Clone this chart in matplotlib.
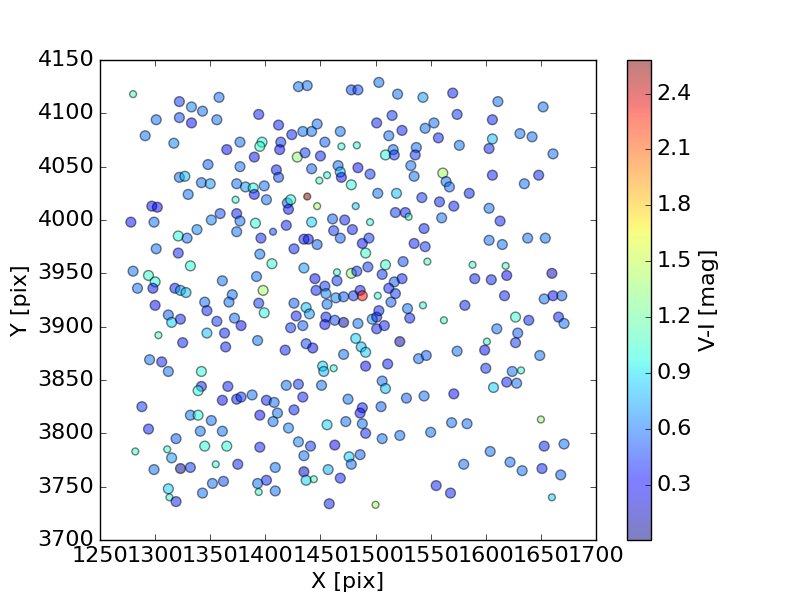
import matplotlib
matplotlib.use('Agg')
import matplotlib.pyplot as plt

# star positions [pix], colour V-I [mag] and rough magnitude (for marker size)
x_pix = [
    1280, 1322, 1333, 1343, 1358, 1301, 1322, 1333, 1356, 1394,
    1291, 1317, 1365, 1377, 1397, 1395, 1390, 1348, 1377, 1322,
    1327, 1342, 1350, 1374, 1382, 1389, 1390, 1399, 1401, 1330,
    1373, 1297, 1302, 1359, 1374, 1278, 1299, 1351, 1377, 1391,
    1321, 1329, 1338, 1374, 1396, 1301, 1321, 1395, 1332, 1280,
    1294, 1300, 1284, 1298, 1318, 1323, 1328, 1361, 1392, 1398,
    1370, 1367, 1345, 1300, 1347, 1394, 1399, 1312, 1315, 1323,
    1356, 1372, 1378, 1303, 1347, 1363, 1325, 1393, 1364, 1295,
    1306, 1312, 1342, 1342, 1339, 1366, 1288, 1361, 1374, 1378,
    1388, 1401, 1332, 1339, 1395, 1351, 1294, 1341, 1361, 1319,
    1282, 1311, 1315, 1345, 1365, 1395, 1299, 1323, 1332, 1355,
    1375, 1401, 1393, 1394, 1352, 1362, 1343, 1312, 1313, 1319,
    1430, 1438, 1478, 1484, 1503, 1520, 1543, 1412, 1424, 1434,
    1442, 1447, 1468, 1454, 1469, 1483, 1501, 1515, 1524, 1512,
    1545, 1553, 1414, 1413, 1429, 1436, 1450, 1516, 1509, 1517,
    1537, 1536, 1410, 1412, 1442, 1466, 1468, 1469, 1456, 1449,
    1478, 1484, 1495, 1532, 1535, 1420, 1423, 1421, 1438, 1447,
    1482, 1502, 1519, 1542, 1518, 1527, 1530, 1461, 1472, 1419,
    1407, 1442, 1495, 1544, 1435, 1439, 1447, 1462, 1468, 1479,
    1426, 1488, 1494, 1491, 1535, 1545, 1406, 1435, 1465, 1478,
    1483, 1493, 1509, 1525, 1547, 1506, 1445, 1465, 1517, 1524,
    1454, 1446, 1455, 1464, 1471, 1480, 1486, 1488, 1502, 1512,
    1518, 1514, 1456, 1426, 1437, 1440, 1428, 1423, 1434, 1455,
    1454, 1463, 1471, 1484, 1497, 1501, 1503, 1501, 1508, 1529,
    1531, 1543, 1482, 1487, 1491, 1522, 1437, 1443, 1418, 1471,
    1539, 1546, 1452, 1453, 1462, 1491, 1511, 1506, 1419, 1430,
    1451, 1509, 1408, 1434, 1411, 1426, 1407, 1421, 1456, 1475,
    1488, 1486, 1505, 1528, 1544, 1473, 1488, 1491, 1506, 1522,
    1550, 1430, 1441, 1463, 1435, 1476, 1478, 1486, 1409, 1435,
    1437, 1444, 1457, 1468, 1409, 1458, 1500, 1571, 1607, 1619,
    1628, 1569, 1583, 1650, 1653, 1671, 1604, 1622, 1633, 1651,
    1668, 1580, 1555, 1568, 1660, 1560, 1613, 1603, 1615, 1638,
    1654, 1588, 1618, 1590, 1605, 1619, 1660, 1617, 1653, 1661,
    1669, 1581, 1562, 1627, 1639, 1666, 1671, 1610, 1629, 1627,
    1601, 1599, 1574, 1649, 1600, 1624, 1632, 1570, 1611, 1652,
    1574, 1606, 1557, 1576, 1606, 1603, 1631, 1642, 1661, 1561,
    1564, 1567, 1585, 1606, 1635, 1648, 1558, 1571, 1603,
]

y_pix = [
    4118, 4111, 4106, 4102, 4115, 4094, 4096, 4091, 4094, 4099,
    4079, 4072, 4066, 4073, 4073, 4069, 4059, 4052, 4050, 4040,
    4041, 4035, 4034, 4034, 4031, 4030, 4024, 4032, 4019, 4024,
    4019, 4013, 4012, 4006, 4006, 3998, 3998, 4000, 3999, 3997,
    3985, 3983, 3991, 3989, 3983, 3973, 3969, 3968, 3957, 3952,
    3948, 3942, 3936, 3936, 3936, 3934, 3932, 3943, 3947, 3934,
    3930, 3923, 3923, 3920, 3915, 3922, 3913, 3911, 3904, 3907,
    3905, 3908, 3901, 3892, 3894, 3894, 3885, 3887, 3881, 3869,
    3867, 3858, 3858, 3844, 3840, 3844, 3825, 3831, 3832, 3834,
    3836, 3831, 3817, 3817, 3817, 3812, 3804, 3802, 3802, 3795,
    3783, 3785, 3777, 3788, 3788, 3787, 3766, 3767, 3768, 3771,
    3771, 3756, 3753, 3745, 3753, 3755, 3744, 3748, 3740, 3736,
    4125, 4126, 4122, 4122, 4129, 4118, 4115, 4089, 4080, 4083,
    4083, 4090, 4083, 4073, 4069, 4070, 4091, 4098, 4084, 4079,
    4086, 4091, 4073, 4066, 4059, 4063, 4060, 4066, 4061, 4061,
    4068, 4061, 4047, 4040, 4048, 4051, 4045, 4040, 4042, 4037,
    4033, 4049, 4043, 4051, 4041, 4016, 4019, 4010, 4022, 4013,
    4013, 4025, 4025, 4021, 4007, 4007, 4003, 4001, 4000, 3995,
    3989, 3998, 3998, 3992, 3982, 3982, 3977, 3990, 3983, 3991,
    3973, 3978, 3983, 3969, 3978, 3975, 3959, 3955, 3951, 3950,
    3952, 3956, 3958, 3961, 3961, 3949, 3945, 3943, 3942, 3945,
    3938, 3934, 3931, 3927, 3928, 3929, 3934, 3929, 3929, 3936,
    3931, 3923, 3921, 3922, 3918, 3912, 3910, 3899, 3901, 3909,
    3902, 3906, 3904, 3903, 3907, 3909, 3915, 3898, 3901, 3917,
    3908, 3920, 3889, 3881, 3876, 3886, 3884, 3880, 3878, 3874,
    3870, 3873, 3863, 3858, 3861, 3863, 3865, 3849, 3845, 3846,
    3845, 3842, 3829, 3834, 3819, 3822, 3811, 3805, 3808, 3832,
    3824, 3819, 3825, 3833, 3835, 3811, 3809, 3800, 3795, 3798,
    3801, 3792, 3788, 3789, 3779, 3778, 3771, 3780, 3768, 3764,
    3756, 3757, 3766, 3758, 3746, 3734, 3733, 3837, 3843, 3848,
    3847, 3810, 3809, 3813, 3788, 3790, 3783, 3773, 3765, 3767,
    3761, 3771, 3751, 3744, 3740, 4002, 3999, 3981, 3977, 3983,
    3983, 3958, 3957, 3945, 3944, 3948, 3950, 3929, 3926, 3929,
    3929, 3920, 3906, 3909, 3906, 3909, 3903, 3898, 3894, 3885,
    3886, 3878, 3877, 3873, 3861, 3858, 3859, 4119, 4111, 4106,
    4099, 4094, 4077, 4070, 4076, 4067, 4081, 4078, 4062, 4044,
    4036, 4031, 4025, 4042, 4034, 4042, 4017, 4013, 4011,
]

v_i = [
    1.1, .45, .65, .6, .6, .6, .5, .35, .6, .4,
    .6, .65, .35, .6, 1.0, 1.05, .35, .55, .6, .6,
    .8, .6, .7, .6, .7, 1.0, .35, .6, .6, .6,
    1.0, .35, .3, .5, .4, .35, .6, .65, .6, 1.0,
    1.0, .6, .65, .6, .4, .6, .4, .6, 1.0, .6,
    1.05, 1.0, .6, .35, .4, .75, .8, .6, .6, 1.4,
    .6, .6, .6, .35, .4, .45, 1.0, .55, .85, .4,
    .45, .6, .35, 1.1, .8, .4, .4, .6, .4, .6,
    .4, .6, 1.0, .4, 1.0, .4, .45, .35, .4, .45,
    .6, .4, .6, 1.0, .35, .6, .4, .6, .6, .55,
    1.05, 1.05, .7, 1.0, 1.0, .4, .6, .05, .45, 1.0,
    .4, .4, .6, 1.05, .6, .5, .6, .85, 1.05, .4,
    .6, .6, .5, .5, .6, .6, .7, .4, .4, .6,
    .6, .6, .6, .55, 1.0, 1.0, .4, .45, .4, .6,
    .6, .6, .45, .35, 1.35, .45, .4, .6, 1.0, .45,
    .6, .45, .4, .5, .55, .6, .8, .35, 1.0, 1.05,
    1.0, .35, .45, .6, .6, .6, 1.0, .35, 2.55, 1.4,
    .85, .6, .8, .45, .45, .4, 1.05, .55, .4, .4,
    .5, .85, 1.0, .4, .4, .35, .55, .45, .55, .4,
    .4, .35, .45, 1.05, .4, .45, 1.05, .7, 1.0, 1.35,
    .45, .45, 1.05, .5, 1.1, .45, .35, .45, .55, .4,
    .45, .4, .65, .65, .55, .45, .4, 2.3, 1.0, .4,
    .45, .55, .6, .55, .8, .7, .4, .45, .55, .4,
    .35, .5, .1, .6, .7, .4, .4, .4, .4, .6,
    .4, 1.0, .85, .8, .85, .1, .5, .35, .4, .6,
    .6, .55, .85, .8, 1.0, .35, .4, .6, .6, .45,
    .6, .8, .6, .4, .6, .4, .6, .65, .85, .6,
    .4, .35, .55, .55, .6, .6, .6, .4, .6, .6,
    .6, .65, .45, .3, .6, .85, .6, .55, .6, .2,
    .85, 1.1, .75, .4, .6, .4, 1.4, .35, .85, .4,
    .6, .6, .6, 1.35, .4, .6, .6, .6, .6, .4,
    .55, .6, .4, .4, .85, .6, .4, .6, .6, .6,
    .6, 1.05, 1.1, .4, .4, .3, .15, .4, .6, .35,
    .55, .4, 1.05, 1.05, .4, .4, .6, .6, .55, .45,
    1.05, .35, .6, .6, .45, .6, 1.0, .4, .6, .6,
    .45, .4, .4, .6, .8, .4, .6, .6, .6, 1.4,
    .6, .6, .4, .4, .6, .4, .4, .4, .6,
]

mag = [
    21.5, 20, 20, 20, 20, 20, 20, 20, 20, 20,
    20, 20, 20, 20, 20, 20, 20, 20, 20, 20,
    20, 20, 20, 20, 20, 20, 20, 20, 20, 20,
    21.5, 20, 20, 20, 20, 20, 20, 20, 20, 20,
    20, 20, 20, 20, 20, 20, 20, 20, 20, 20,
    20, 20, 20, 20, 20, 20, 20, 20, 20, 20,
    20, 20, 20, 20, 20, 20, 20, 20, 20, 20,
    20, 20, 20, 21.5, 20, 20, 20, 20, 20, 20,
    20, 20, 20, 20, 20, 20, 20, 20, 20, 20,
    20, 20, 20, 20, 20, 20, 20, 20, 20, 20,
    21.5, 21.5, 20, 20, 20, 20, 20, 20, 20, 21.5,
    20, 20, 20, 21.5, 20, 20, 20, 20, 21.5, 20,
    20, 20, 20, 20, 20, 20, 20, 20, 20, 20,
    20, 20, 20, 20, 21.5, 21.5, 20, 20, 20, 20,
    20, 20, 20, 20, 20, 20, 20, 20, 20, 20,
    20, 20, 20, 20, 20, 20, 20, 20, 21.5, 21.5,
    20, 20, 20, 20, 20, 20, 20, 20, 21.5, 21.5,
    21.5, 20, 20, 20, 20, 20, 21.5, 20, 20, 20,
    21.5, 20, 21.5, 20, 20, 20, 20, 20, 20, 20,
    20, 20, 20, 20, 20, 20, 20, 20, 21.5, 20,
    20, 20, 20, 20, 21.5, 20, 20, 20, 20, 20,
    20, 20, 20, 20, 20, 20, 20, 20, 21.5, 20,
    20, 20, 20, 20, 20, 20, 20, 20, 20, 20,
    20, 20, 20, 20, 20, 20, 20, 20, 20, 20,
    20, 21.5, 20, 20, 20, 20, 20, 20, 20, 20,
    20, 20, 20, 20, 21.5, 20, 20, 20, 20, 20,
    20, 20, 20, 20, 20, 20, 20, 20, 20, 20,
    20, 20, 20, 20, 20, 20, 20, 20, 20, 20,
    20, 20, 20, 20, 20, 20, 20, 20, 20, 20,
    20, 21.5, 20, 20, 20, 20, 21.5, 20, 20, 20,
    20, 20, 20, 21.5, 20, 20, 20, 20, 20, 20,
    20, 20, 20, 20, 21.5, 20, 20, 20, 20, 20,
    20, 21.5, 21.5, 20, 20, 20, 20, 20, 20, 20,
    20, 20, 21.5, 20, 20, 20, 20, 20, 20, 20,
    21.5, 20, 20, 20, 20, 20, 21.5, 20, 20, 20,
    20, 20, 20, 20, 20, 20, 20, 20, 20, 20,
    20, 20, 20, 20, 20, 20, 20, 20, 20,
]

cbar_ticks = [0.3, 0.6, 0.9, 1.2, 1.5, 1.8, 2.1, 2.4]

plt.style.use('classic')
plt.rcParams['font.size'] = 16
plt.rcParams['font.family'] = ['DejaVu Sans']

sizes = [50 - 17 * (m - 20) for m in mag]

fig = plt.figure(figsize=(8, 6), dpi=100, facecolor='white')
ax = fig.add_subplot(111)
sc = ax.scatter(x_pix, y_pix, c=v_i, s=sizes, cmap='jet', alpha=0.5,
                vmin=0.005, vmax=2.58, edgecolors='k', linewidths=1.0)
ax.set_xlim(1250, 1700)
ax.set_ylim(3700, 4150)
ax.set_xlabel('X [pix]')
ax.set_ylabel('Y [pix]')
cb = fig.colorbar(sc)
cb.set_ticks(cbar_ticks)
cb.set_label('V-I [mag]')

fig.savefig('out.png', dpi=100, facecolor='white')
